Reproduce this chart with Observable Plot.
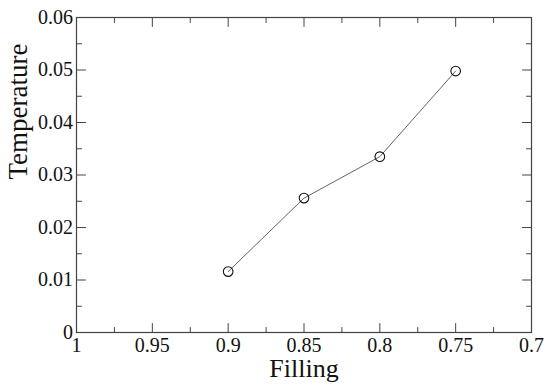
<!DOCTYPE html>
<html>
<head>
<meta charset="utf-8">
<script src="https://cdn.jsdelivr.net/npm/d3@7"></script>
<script src="https://cdn.jsdelivr.net/npm/@observablehq/plot@0.6"></script>
<style>
  html, body { margin: 0; padding: 0; background: #fff; }
</style>
</head>
<body>
<div id="chart"></div>
<script>
const filling = [0.9, 0.85, 0.8, 0.75];
const temperature = [0.0116, 0.0256, 0.0335, 0.0498];
const xMajor = [1, 0.95, 0.9, 0.85, 0.8, 0.75, 0.7];
const xMinor = [0.975, 0.925, 0.875, 0.825, 0.775, 0.725];
const yMajor = [0, 0.01, 0.02, 0.03, 0.04, 0.05, 0.06];
const yMinor = [0.005, 0.015, 0.025, 0.035, 0.045, 0.055];
const xTitle = "Filling";
const yTitle = "Temperature";

const data = filling.map((f, i) => ({filling: f, temperature: temperature[i]}));
const axisColor = "#444";
const serif = "'Liberation Serif', 'Times New Roman', serif";

// a plain line shape for inward ticks
const tickShape = {draw(context, l) { context.moveTo(0, 0); context.lineTo(0, -l); }};
function ticks(values, channel, side, len) {
  const rotate = {bottom: 0, top: 180, left: 90, right: -90}[side];
  return Plot.vector(values, {
    [channel]: d => d,
    frameAnchor: side,
    length: len,
    rotate,
    anchor: "start",
    shape: tickShape,
    stroke: axisColor,
    strokeWidth: 1
  });
}

const chart = Plot.plot({
  width: 550,
  height: 390,
  marginLeft: 76,
  marginRight: 19,
  marginTop: 17,
  marginBottom: 58,
  style: {fontFamily: serif, background: "#fff"},
  x: {domain: [1, 0.7], axis: null},
  y: {domain: [0, 0.06], axis: null},
  length: {type: "identity"},
  marks: [
    Plot.frame({stroke: axisColor, strokeWidth: 1.2}),
    ticks(xMajor, "x", "bottom", 9),
    ticks(xMinor, "x", "bottom", 5),
    ticks(xMajor, "x", "top", 9),
    ticks(xMinor, "x", "top", 5),
    ticks(yMajor, "y", "left", 9),
    ticks(yMinor, "y", "left", 5),
    ticks(yMajor, "y", "right", 9),
    ticks(yMinor, "y", "right", 5),
    // tick labels
    Plot.text(xMajor, {x: d => d, frameAnchor: "bottom", text: d => String(d), dy: 5.5, lineAnchor: "top", fontSize: 20, fontFamily: serif, fill: "#111"}),
    Plot.text(yMajor, {y: d => d, frameAnchor: "left", text: d => String(d), dx: -3.5, textAnchor: "end", lineAnchor: "middle", fontSize: 20, fontFamily: serif, fill: "#111"}),
    // titles
    Plot.text([xTitle], {frameAnchor: "bottom", text: d => d, dy: 36, fontSize: 26, fontFamily: serif, fill: "#111", lineAnchor: "middle"}),
    Plot.text([yTitle], {frameAnchor: "left", text: d => d, dx: -58, dy: 4.5, rotate: -90, fontSize: 27, fontFamily: serif, fill: "#111", lineAnchor: "middle"}),
    // data
    Plot.line(data, {x: "filling", y: "temperature", stroke: "#666", strokeWidth: 1}),
    Plot.dot(data, {x: "filling", y: "temperature", r: 4.8, stroke: "#111", strokeWidth: 1.1, fill: "none"})
  ]
});
document.getElementById("chart").appendChild(chart);
</script>
</body>
</html>
